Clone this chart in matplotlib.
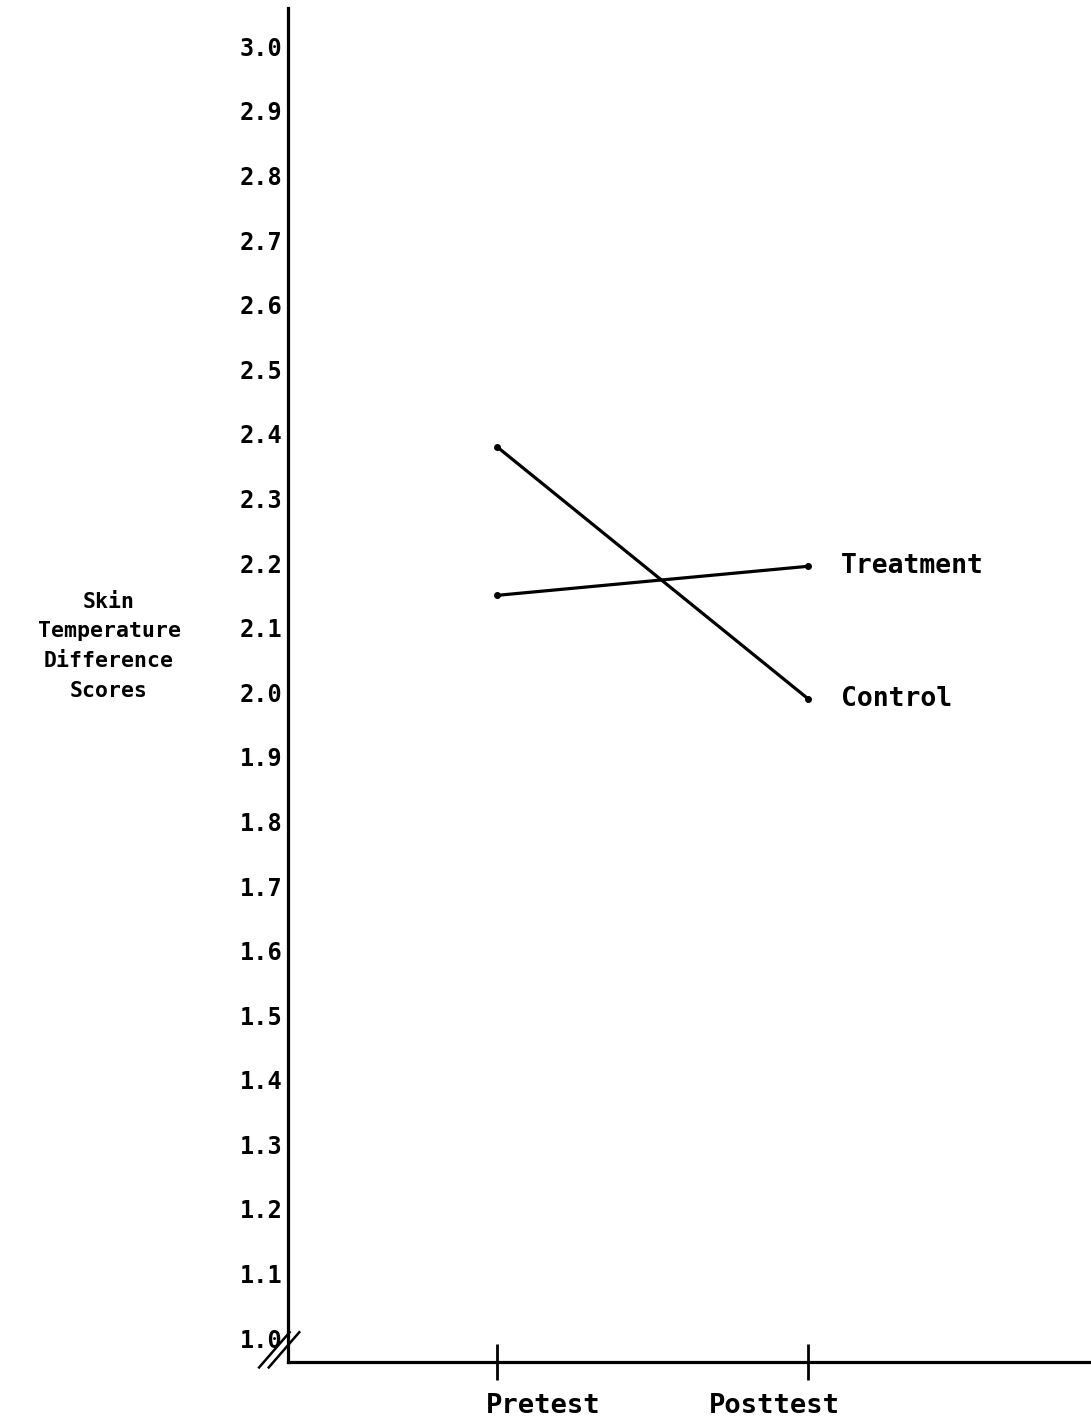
import matplotlib.pyplot as plt

# data
phases = ["Pretest", "Posttest"]
phase_pos = [1, 2]
treatment = [2.15, 2.195]
control = [2.38, 1.99]
yticks = [round(1.0 + 0.1 * i, 1) for i in range(21)]

plt.rcParams["font.family"] = ["DejaVu Sans Mono"]
plt.rcParams["font.weight"] = "bold"

fig = plt.figure(figsize=(10.91, 14.25), dpi=100)
ax = fig.add_axes([0.264, 0.0442, 0.736, 0.950])

ax.plot(phase_pos, control, color="black", lw=2.3, marker="o", ms=4)
ax.plot(phase_pos, treatment, color="black", lw=2.3, marker="o", ms=4)

ax.annotate("Treatment", (phase_pos[1], treatment[1]), xytext=(24, 0),
            textcoords="offset points", ha="left", va="center", fontsize=19)
ax.annotate("Control", (phase_pos[1], control[1]), xytext=(24, 0),
            textcoords="offset points", ha="left", va="center", fontsize=19)

ax.set_xlim(0.328, 2.91)
ax.set_ylim(0.963, 3.059)

ax.set_yticks(yticks)
ax.set_yticklabels([f"{v:.1f}" for v in yticks], fontsize=17)
ax.tick_params(axis="y", length=0, pad=4)

ax.set_xticks(phase_pos)
ax.set_xticklabels([])
ax.tick_params(axis="x", direction="inout", length=26, width=2)

# x labels sit off-centre from their ticks in the original
for x, lab, dx in zip(phase_pos, phases, [33, -24]):
    ax.annotate(lab, (x, 0), xycoords=("data", "axes fraction"),
                xytext=(dx, -32), textcoords="offset points",
                ha="center", va="center", fontsize=19.5)

for s in ["top", "right"]:
    ax.spines[s].set_visible(False)
for s in ["left", "bottom"]:
    ax.spines[s].set_linewidth(2.3)

# axis break marks at the origin
for off in [-0.012, 0.0]:
    ax.plot([-0.024 + off, 0.014 + off], [-0.004, 0.022], transform=ax.transAxes,
            color="black", lw=1.8, clip_on=False)

fig.text(0.100, 0.5465, "Skin\nTemperature\nDifference\nScores", ha="center",
         va="center", multialignment="center", fontsize=15.5, linespacing=1.6)

fig.savefig("out.png", dpi=100)
